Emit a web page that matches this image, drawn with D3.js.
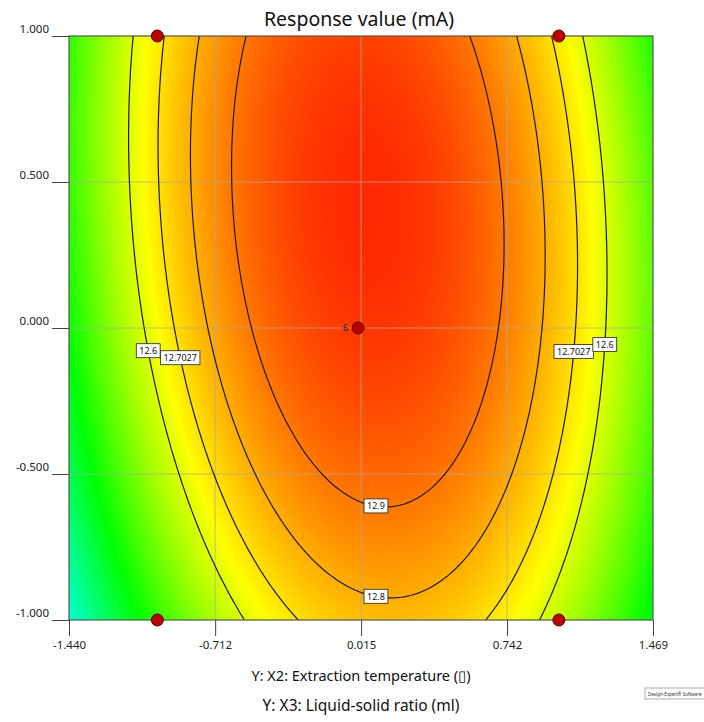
<!DOCTYPE html>
<html>
<head>
<meta charset="utf-8">
<script src="https://cdn.jsdelivr.net/npm/d3@7"></script>
<style>
  body { margin: 0; background: #fff; }
  text { font-family: "Noto Sans", sans-serif; }
</style>
</head>
<body>
<svg id="chart"></svg>
<script>
// ------------------ data ---------------------

// quadratic model in coded units: Intercept, A, B, A^2, B^2, AB
let terms = ['Intercept', 'A', 'B', 'A2', 'B2', 'AB'];
let coefs = [13.018, 0.0534, 0.1179, -0.318, -0.1373, -0.0539];

let contourLevels = [12.6, 12.7027, 12.8, 12.9];

let xTicks = [-1.440, -0.712, 0.015, 0.742, 1.469];
let yTicks = [-1.000, -0.500, 0.000, 0.500, 1.000];

// design points and their replicate count
let designX = [-1, 1, -1, 1, 0];
let designY = [1, 1, -1, -1, 0];
let designCount = [1, 1, 1, 1, 6];

// contour labels: level, which coordinate is fixed, its value, which side of the ridge
let labelLevel = [12.6, 12.7027, 12.7027, 12.6, 12.9, 12.8];
let labelAxis = ['y', 'y', 'y', 'y', 'x', 'x'];
let labelAt = [-0.079, -0.103, -0.082, -0.058, 0.089, 0.089];
let labelSide = [-1, -1, 1, 1, -1, -1];

// colour ramp of the response
let colorStops = [11.51, 11.89, 12.27, 12.65, 13.06];
let colorNames = ['#0000ff', '#00ffff', '#00ff00', '#ffff00', '#ff2000'];

// ------------------ chart ---------------------

let svgWidth = 704;
let svgHeight = 722;
let pLeft = 69, pRight = 653, pTop = 36, pBottom = 620;

let svg = d3.select('#chart')
    .attr('width', svgWidth)
    .attr('height', svgHeight);

let x = d3.scaleLinear().domain([xTicks[0], xTicks[xTicks.length - 1]]).range([pLeft, pRight]);
let y = d3.scaleLinear().domain([-1, 1]).range([pBottom, pTop]);
let color = d3.scaleLinear().domain(colorStops).range(colorNames).clamp(true);

function model(a, b) {
    return coefs[0] + coefs[1] * a + coefs[2] * b + coefs[3] * a * a + coefs[4] * b * b + coefs[5] * a * b;
}

// fill: one pixel per canvas cell, through the scales
let W = pRight - pLeft, H = pBottom - pTop;
let canvas = document.createElement('canvas');
canvas.width = W;
canvas.height = H;
let ctx = canvas.getContext('2d');
let img = ctx.createImageData(W, H);
let lut = [];
let lutN = 1024;
let lo = colorStops[0], hi = colorStops[colorStops.length - 1];
for (let k = 0; k < lutN; k++) {
    lut.push(d3.rgb(color(lo + (hi - lo) * k / (lutN - 1))));
}
for (let j = 0; j < H; j++) {
    let yv = y.invert(pTop + j + 0.5);
    for (let i = 0; i < W; i++) {
        let xv = x.invert(pLeft + i + 0.5);
        let v = model(xv, yv);
        let k = Math.max(0, Math.min(lutN - 1, Math.round((v - lo) / (hi - lo) * (lutN - 1))));
        let c = lut[k];
        let p = (j * W + i) * 4;
        img.data[p] = c.r; img.data[p + 1] = c.g; img.data[p + 2] = c.b; img.data[p + 3] = 255;
    }
}
ctx.putImageData(img, 0, 0);

svg.append('image')
    .attr('x', pLeft).attr('y', pTop)
    .attr('width', W).attr('height', H)
    .attr('preserveAspectRatio', 'none')
    .attr('href', canvas.toDataURL());

// grid lines
svg.append('g').selectAll('line')
    .data(xTicks.slice(1, -1))
    .enter().append('line')
    .attr('x1', d => x(d)).attr('x2', d => x(d))
    .attr('y1', pTop).attr('y2', pBottom)
    .attr('stroke', '#a8a8a8').attr('stroke-opacity', 0.75).attr('stroke-width', 1);
svg.append('g').selectAll('line')
    .data(yTicks.slice(1, -1))
    .enter().append('line')
    .attr('y1', d => y(d)).attr('y2', d => y(d))
    .attr('x1', pLeft).attr('x2', pRight)
    .attr('stroke', '#a8a8a8').attr('stroke-opacity', 0.75).attr('stroke-width', 1);

// contour lines from a grid a bit larger than the plot, clipped
svg.append('clipPath').attr('id', 'plotClip')
    .append('rect').attr('x', pLeft).attr('y', pTop).attr('width', W).attr('height', H);

let nx = 320, ny = 320;
let gx0 = -1.55, gx1 = 1.58, gy0 = -1.08, gy1 = 1.08;
let dxg = (gx1 - gx0) / (nx - 1), dyg = (gy1 - gy0) / (ny - 1);
let values = new Array(nx * ny);
for (let j = 0; j < ny; j++) {
    for (let i = 0; i < nx; i++) {
        values[i + j * nx] = model(gx0 + i * dxg, gy0 + j * dyg);
    }
}
let contours = d3.contours().size([nx, ny]).thresholds(contourLevels)(values);
let proj = d3.geoTransform({
    point: function(px, py) {
        this.stream.point(x(gx0 + (px - 0.5) * dxg), y(gy0 + (py - 0.5) * dyg));
    }
});
svg.append('g').attr('clip-path', 'url(#plotClip)')
    .selectAll('path')
    .data(contours)
    .enter().append('path')
    .attr('d', d3.geoPath().projection(proj))
    .attr('fill', 'none')
    .attr('stroke', '#1a1a1a')
    .attr('stroke-width', 1.2);

// contour labels
function bisect(fn, a, b) {
    let fa = fn(a);
    for (let k = 0; k < 60; k++) {
        let m = (a + b) / 2, fm = fn(m);
        if ((fm > 0) === (fa > 0)) { a = m; fa = fm; } else { b = m; }
    }
    return (a + b) / 2;
}
let labelData = labelLevel.map(function(lev, i) {
    if (labelAxis[i] === 'y') {
        let yv = labelAt[i];
        let ridge = -(coefs[1] + coefs[5] * yv) / (2 * coefs[3]);
        let edge = labelSide[i] < 0 ? -3 : 3;
        let xv = bisect(t => model(t, yv) - lev, ridge, edge);
        return { level: lev, px: x(xv), py: y(yv) };
    } else {
        let xv = labelAt[i];
        let ridge = -(coefs[2] + coefs[5] * xv) / (2 * coefs[4]);
        let edge = labelSide[i] < 0 ? -3 : 3;
        let yv = bisect(t => model(xv, t) - lev, ridge, edge);
        return { level: lev, px: x(xv), py: y(yv) };
    }
});
let labels = svg.append('g').selectAll('g')
    .data(labelData)
    .enter().append('g')
    .attr('transform', d => 'translate(' + d.px + ',' + d.py + ')');
labels.append('text')
    .attr('text-anchor', 'middle')
    .attr('dy', '0.35em')
    .style('font-size', '9px')
    .attr('fill', '#111')
    .text(d => String(d.level));
labels.each(function() {
    let g = d3.select(this);
    let bb = g.select('text').node().getBBox();
    g.insert('rect', 'text')
        .attr('x', bb.x - 3).attr('y', bb.y - 0.5)
        .attr('width', bb.width + 6).attr('height', bb.height + 1)
        .attr('fill', '#fff').attr('stroke', '#222').attr('stroke-width', 0.8);
});

// frame and axes
svg.append('rect')
    .attr('x', pLeft).attr('y', pTop).attr('width', W).attr('height', H)
    .attr('fill', 'none').attr('stroke', '#555').attr('stroke-width', 1.2);

let fmt = d => d.toFixed(3);

let yAxis = d3.axisLeft(y).tickValues(yTicks).tickSize(17).tickPadding(3).tickFormat(fmt);
let gy = svg.append('g').attr('transform', 'translate(' + pLeft + ',0)').call(yAxis);
gy.select('.domain').remove();
gy.selectAll('line').attr('stroke', '#444');
gy.selectAll('text').attr('dy', '-0.3em').style('font-size', '11.5px').attr('fill', '#222');

let xAxis = d3.axisBottom(x).tickValues(xTicks).tickSize(16).tickPadding(5).tickFormat(fmt);
let gx = svg.append('g').attr('transform', 'translate(0,' + pBottom + ')').call(xAxis);
gx.select('.domain').remove();
gx.selectAll('line').attr('stroke', '#444');
gx.selectAll('text').style('font-size', '11.5px').attr('fill', '#222');

// design points
svg.append('g').selectAll('circle')
    .data(designX)
    .enter().append('circle')
    .attr('cx', d => x(d))
    .attr('cy', (d, i) => y(designY[i]))
    .attr('r', 6)
    .attr('fill', '#c00000')
    .attr('stroke', '#4a0000')
    .attr('stroke-width', 1);
let reps = designX.map((d, i) => i).filter(i => designCount[i] > 1);
svg.append('g').selectAll('text')
    .data(reps)
    .enter().append('text')
    .attr('x', i => x(designX[i]) - 10)
    .attr('y', i => y(designY[i]) + 3)
    .attr('text-anchor', 'end')
    .style('font-size', '9px')
    .attr('fill', '#222')
    .text(i => designCount[i]);

// titles
svg.append('text')
    .attr('x', 359).attr('y', 26)
    .attr('text-anchor', 'middle')
    .style('font-size', '19.5px')
    .attr('fill', '#111')
    .text('Response value (mA)');
svg.append('text')
    .attr('x', 361).attr('y', 681)
    .attr('text-anchor', 'middle')
    .style('font-size', '14.5px')
    .attr('fill', '#111')
    .text('Y: X2: Extraction temperature (\u25AF)');
svg.append('text')
    .attr('x', 361).attr('y', 711)
    .attr('text-anchor', 'middle')
    .style('font-size', '15.5px')
    .attr('fill', '#111')
    .text('Y: X3: Liquid-solid ratio (ml)');

// software badge
svg.append('rect')
    .attr('x', 645).attr('y', 688).attr('width', 64).attr('height', 11)
    .attr('fill', '#fff').attr('stroke', '#999').attr('stroke-width', 0.8);
svg.append('text')
    .attr('x', 648).attr('y', 695.5)
    .style('font-size', '4.5px')
    .attr('fill', '#333')
    .text('Design-Expert\u00AE Software');
</script>
</body>
</html>
